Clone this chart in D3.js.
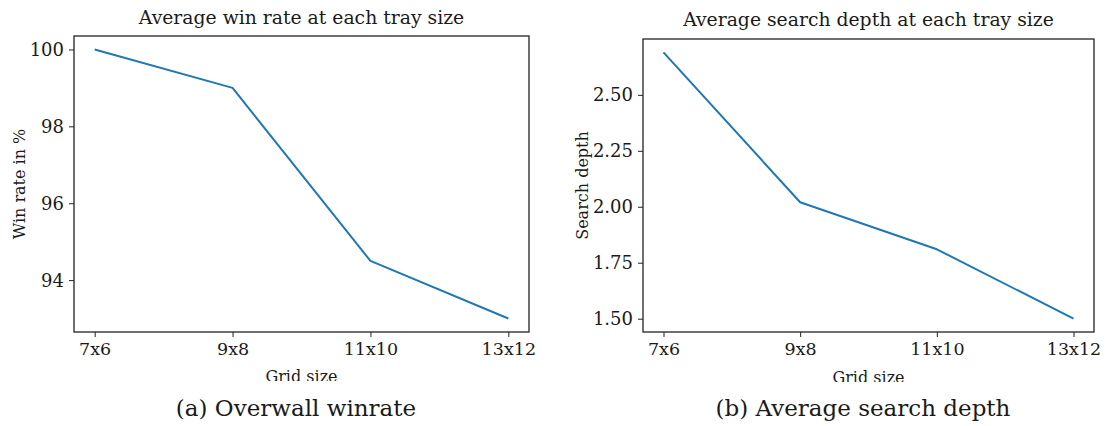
<!DOCTYPE html>
<html>
<head>
<meta charset="utf-8">
<script src="https://cdn.jsdelivr.net/npm/d3@7"></script>
<style>
  body { margin: 0; background: #fff; }
  svg { display: block; }
  text { font-family: "DejaVu Serif", serif; fill: #1a1a1a; }
  .tick line { stroke: #222; stroke-width: 1; }
  .frame { fill: none; stroke: #222; stroke-width: 1.3; }
</style>
</head>
<body>
<svg id="chart" width="1110" height="426"></svg>
<script>
var gridSizes = ["7x6", "9x8", "11x10", "13x12"];
var winRates = [100, 99, 94.5, 93];
var searchDepths = [2.69, 2.02, 1.81, 1.50];
var winTicks = [94, 96, 98, 100];
var depthTicks = [1.50, 1.75, 2.00, 2.25, 2.50];

var svg = d3.select("#chart");

function drawPanel(p) {
    var g = svg.append("g").attr("clip-path", "url(#" + p.id + "-clip)");
    svg.append("clipPath").attr("id", p.id + "-clip")
        .append("rect").attr("x", p.left - 80).attr("y", 0)
        .attr("width", p.right - p.left + 100).attr("height", p.clipBottom);

    var x = d3.scalePoint().domain(gridSizes).range([p.left, p.right]).padding(0.15);
    var ext = d3.extent(p.values);
    var pad = (ext[1] - ext[0]) * 0.05;
    var y = d3.scaleLinear().domain([ext[0] - pad, ext[1] + pad]).range([p.bottom, p.top]);

    g.append("g")
        .attr("transform", "translate(0," + p.bottom + ")")
        .call(d3.axisBottom(x).tickSize(5).tickPadding(6))
        .attr("font-family", null).attr("font-size", null)
        .call(function(a) { a.select(".domain").remove(); })
        .selectAll("text").style("font-size", "17.5px").attr("fill", "#1a1a1a");

    g.append("g")
        .attr("transform", "translate(" + p.left + ",0)")
        .call(d3.axisLeft(y).tickValues(p.ticks).tickFormat(p.fmt).tickSize(5).tickPadding(5))
        .attr("font-family", null).attr("font-size", null)
        .call(function(a) { a.select(".domain").remove(); })
        .selectAll("text").style("font-size", "18px").attr("fill", "#1a1a1a").attr("dy", "0.34em");

    g.append("path")
        .datum(p.values)
        .attr("fill", "none")
        .attr("stroke", "#1f77b4")
        .attr("stroke-width", 2)
        .attr("stroke-linejoin", "round")
        .attr("d", d3.line()
            .x(function(d, i) { return x(gridSizes[i]); })
            .y(function(d) { return y(d); }));

    g.append("rect").attr("class", "frame")
        .attr("x", p.left).attr("y", p.top)
        .attr("width", p.right - p.left).attr("height", p.bottom - p.top);

    var cx = (p.left + p.right) / 2;
    g.append("text")
        .attr("x", cx).attr("y", p.titleY)
        .attr("text-anchor", "middle")
        .style("font-size", "18.8px")
        .text(p.title);

    g.append("text")
        .attr("x", cx).attr("y", p.xLabelY)
        .attr("text-anchor", "middle")
        .style("font-size", "16px")
        .text("Grid size");

    g.append("text")
        .attr("transform", "translate(" + p.yLabelX + "," + ((p.top + p.bottom) / 2) + ") rotate(-90)")
        .attr("text-anchor", "middle")
        .style("font-size", "16px")
        .text(p.yLabel);

    svg.append("text")
        .attr("x", p.captionX).attr("y", 416)
        .attr("text-anchor", "middle")
        .style("font-size", "23px")
        .text(p.caption);
}

drawPanel({
    id: "a", left: 74, right: 529, top: 36, bottom: 332,
    values: winRates, ticks: winTicks, fmt: d3.format("d"),
    title: "Average win rate at each tray size", titleY: 24,
    yLabel: "Win rate in %", yLabelX: 25, xLabelY: 382, clipBottom: 381,
    caption: "(a) Overwall winrate", captionX: 296
});

drawPanel({
    id: "b", left: 643, right: 1094, top: 39, bottom: 332,
    values: searchDepths, ticks: depthTicks, fmt: d3.format(".2f"),
    title: "Average search depth at each tray size", titleY: 26,
    yLabel: "Search depth", yLabelX: 588, xLabelY: 383, clipBottom: 382,
    caption: "(b) Average search depth", captionX: 863
});
</script>
</body>
</html>
